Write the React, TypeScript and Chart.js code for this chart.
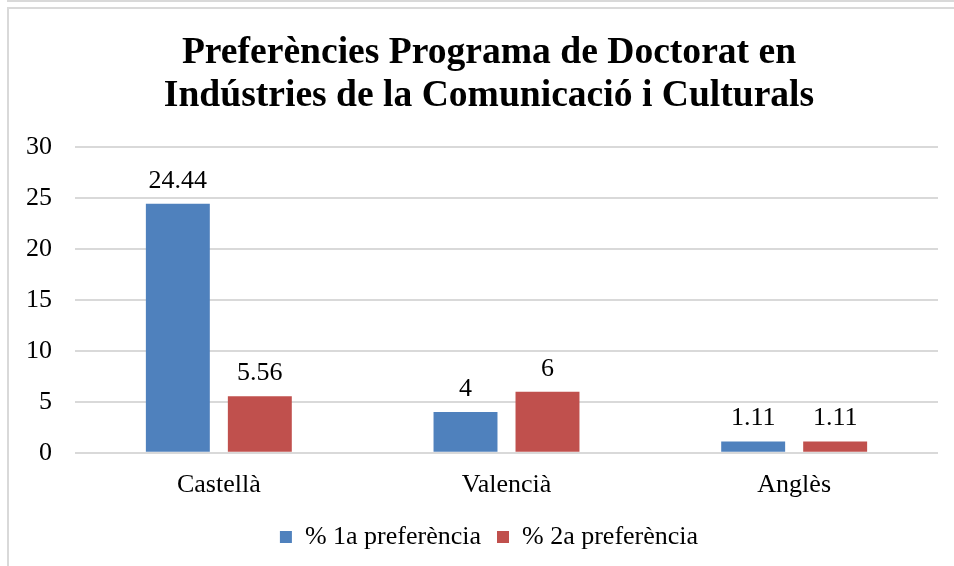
import React, { useEffect, useRef } from "react";
import { Chart, registerables } from "chart.js";

Chart.register(...registerables);

const categories = ["Castellà", "Valencià", "Anglès"];
const firstPref = [24.44, 4, 1.11];
const secondPref = [5.56, 6, 1.11];
const seriesNames = ["% 1a preferència", "% 2a preferència"];
const titleLines = ["Preferències Programa de Doctorat en", "Indústries de la Comunicació i Culturals"];
const yTicks = { min: 0, max: 30, step: 5 };

const FONT = '"Liberation Serif", "Times New Roman", serif';

const dataLabels = {
  id: "dataLabels",
  afterDatasetsDraw(chart: any) {
    const ctx = chart.ctx;
    ctx.save();
    ctx.font = `26px ${FONT}`;
    ctx.fillStyle = "#000";
    ctx.textAlign = "center";
    ctx.textBaseline = "alphabetic";
    chart.data.datasets.forEach((ds: any, i: number) => {
      const meta = chart.getDatasetMeta(i);
      meta.data.forEach((el: any, j: number) => {
        ctx.fillText(String(ds.data[j]), el.x, el.y - 16);
      });
    });
    ctx.restore();
  },
};

export default function App() {
  const ref = useRef<HTMLCanvasElement>(null);
  useEffect(() => {
    if (!ref.current) return;
    const chart = new Chart(ref.current, {
      type: "bar",
      data: {
        labels: categories,
        datasets: [
          { label: seriesNames[0], data: firstPref, backgroundColor: "#4F81BD" },
          { label: seriesNames[1], data: secondPref, backgroundColor: "#C0504D" },
        ],
      },
      options: {
        responsive: false,
        animation: false,
        devicePixelRatio: 1,
        layout: { padding: { left: 31, right: 16, top: 0, bottom: 28 } },
        datasets: { bar: { categoryPercentage: 0.57, barPercentage: 0.78 } },
        plugins: {
          title: {
            display: true,
            text: titleLines,
            color: "#000",
            font: { family: FONT, size: 37.6, weight: "bold", lineHeight: 43.5 / 37.6 },
            padding: { top: 22.5, bottom: 28.5 },
          },
          legend: {
            position: "bottom",
            labels: {
              boxWidth: 12,
              boxHeight: 12,
              padding: 16,
              color: "#000",
              font: { family: FONT, size: 26 },
            },
          },
          tooltip: { enabled: false },
        },
        scales: {
          x: {
            grid: { display: false, drawTicks: false },
            border: { display: false },
            ticks: { color: "#000", font: { family: FONT, size: 26 }, padding: 17 },
            afterFit: (scale: any) => {
              scale.height = scale.height - 10;
            },
          },
          y: {
            min: yTicks.min,
            max: yTicks.max,
            border: { display: false },
            grid: { color: "#d9d9d9", lineWidth: 2, drawTicks: false },
            ticks: { stepSize: yTicks.step, color: "#000", font: { family: FONT, size: 26 }, padding: 23 },
            afterFit: (scale: any) => {
              scale.width = 35;
              scale._computeLabelArea = () => undefined;
            },
          },
        },
      },
      plugins: [dataLabels],
    });
    return () => chart.destroy();
  }, []);

  return (
    <div style={{ position: "fixed", left: 0, top: 0, width: 954, height: 566, overflow: "hidden", background: "#fff" }}>
      <div style={{ position: "absolute", left: 7, top: 0, right: 0, height: 2, background: "#d9d9d9" }} />
      <div
        style={{
          position: "absolute",
          left: 7,
          top: 7,
          width: 947,
          height: 559,
          borderLeft: "2px solid #d9d9d9",
          borderTop: "2px solid #d9d9d9",
          boxSizing: "border-box",
          overflow: "hidden",
        }}
      >
        <canvas ref={ref} width={945} height={579} style={{ display: "block" }} />
      </div>
    </div>
  );
}
